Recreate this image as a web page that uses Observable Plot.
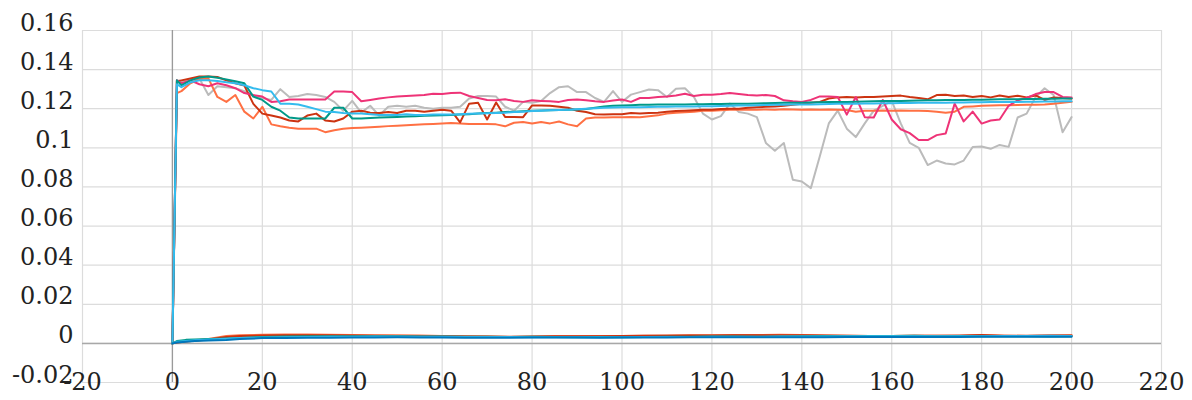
<!DOCTYPE html>
<html>
<head>
<meta charset="utf-8">
<script src="https://cdn.jsdelivr.net/npm/d3@7"></script>
<script src="https://cdn.jsdelivr.net/npm/@observablehq/plot@0.6"></script>
<style>
  html, body { margin: 0; padding: 0; background: #fff; }
</style>
</head>
<body>
<div id="chart"></div>
<script>
// x positions (epochs) for the upper curves: 0, 1, then every 2
const epochs = [0, 1, ...d3.range(2, 201, 2)];
// x positions for the lower curves
const lowEpochs = [0, 1, 3, 5, 8, 12, ...d3.range(15, 201, 5)];

const xTicks = [-20, 0, 20, 40, 60, 80, 100, 120, 140, 160, 180, 200, 220];
const xTickLabels = ["-20", "0", "20", "40", "60", "80", "100", "120", "140", "160", "180", "200", "220"];
const yTicks = [-0.02, 0, 0.02, 0.04, 0.06, 0.08, 0.1, 0.12, 0.14, 0.16];
const yTickLabels = ["-0.02", "0", "0.02", "0.04", "0.06", "0.08", "0.1", "0.12", "0.14", "0.16"];

const grey = [
  0, 0.1345, 0.134, 0.135, 0.1355, 0.127, 0.1315, 0.131, 0.1305, 0.129,
  0.1265, 0.1255, 0.1245, 0.130, 0.126, 0.1265, 0.1275, 0.127, 0.126, 0.1235,
  0.119, 0.124, 0.118, 0.1215, 0.1165, 0.121, 0.1215, 0.121, 0.1215, 0.1205,
  0.120, 0.1205, 0.1205, 0.121, 0.1252, 0.1265, 0.1265, 0.1262, 0.121, 0.119,
  0.1235, 0.123, 0.124, 0.128, 0.131, 0.1315, 0.1285, 0.1285, 0.1255, 0.1235,
  0.129, 0.1235, 0.1272, 0.1285, 0.1298, 0.1295, 0.126, 0.1302, 0.1305, 0.126,
  0.1175, 0.1145, 0.1162, 0.1226, 0.1183, 0.1175, 0.1157, 0.1025, 0.0985, 0.1025,
  0.0837, 0.0828, 0.0794, 0.0957, 0.1125, 0.119, 0.1098, 0.1055, 0.1125, 0.119,
  0.1215, 0.124, 0.1125, 0.1025, 0.100, 0.0912, 0.0935, 0.092, 0.0915, 0.0935,
  0.1004, 0.1007, 0.0995, 0.1015, 0.1005, 0.1155, 0.1175, 0.126, 0.1305, 0.127,
  0.108, 0.1157
];
const magenta = [
  0, 0.1345, 0.133, 0.1345, 0.1325, 0.1315, 0.133, 0.132, 0.1305, 0.128,
  0.127, 0.1262, 0.1235, 0.1238, 0.1247, 0.1247, 0.1247, 0.1247, 0.1247, 0.1288,
  0.1288, 0.1285, 0.1238, 0.1245, 0.1252, 0.1258, 0.1263, 0.1265, 0.1268, 0.127,
  0.1277, 0.1275, 0.128, 0.1282, 0.1265, 0.1255, 0.1245, 0.1243, 0.1248, 0.124,
  0.1235, 0.1243, 0.124, 0.1238, 0.1235, 0.1245, 0.1247, 0.1243, 0.1238, 0.1235,
  0.1242, 0.1247, 0.1235, 0.1255, 0.1255, 0.126, 0.1263, 0.1268, 0.1277, 0.1265,
  0.1272, 0.1272, 0.1275, 0.128, 0.1275, 0.127, 0.1268, 0.127, 0.1265, 0.1243,
  0.1238, 0.1235, 0.1245, 0.1263, 0.1262, 0.126, 0.117, 0.126, 0.1157, 0.1155,
  0.1245, 0.1145, 0.1095, 0.1075, 0.104, 0.104, 0.1065, 0.1073, 0.1226, 0.1135,
  0.1185, 0.1124, 0.114, 0.1145, 0.1215, 0.1243, 0.1255, 0.1275, 0.1285, 0.1285,
  0.126, 0.1257
];
const red = [
  0, 0.134, 0.1345, 0.1355, 0.1365, 0.1365, 0.1362, 0.1345, 0.133, 0.1318,
  0.1225, 0.1175, 0.1165, 0.1155, 0.114, 0.1135, 0.1165, 0.1175, 0.114, 0.1135,
  0.115, 0.1185, 0.119, 0.118, 0.1178, 0.1183, 0.1178, 0.119, 0.119, 0.1185,
  0.119, 0.1195, 0.119, 0.113, 0.1226, 0.123, 0.1145, 0.1232, 0.1158, 0.1158,
  0.1157, 0.1217, 0.1217, 0.1215, 0.121, 0.1205, 0.119, 0.1183, 0.1172, 0.117,
  0.1172, 0.1172, 0.1178, 0.1175, 0.1178, 0.118, 0.1185, 0.1188, 0.119, 0.1192,
  0.1195, 0.1195, 0.1198, 0.12, 0.12, 0.1205, 0.1207, 0.121, 0.1212, 0.1215,
  0.122, 0.1226, 0.123, 0.1235, 0.1252, 0.1258, 0.126, 0.1258, 0.126, 0.126,
  0.1263, 0.1265, 0.1267, 0.126, 0.1255, 0.1248, 0.127, 0.1272, 0.1265, 0.1268,
  0.126, 0.1265, 0.1258, 0.1268, 0.126, 0.1266, 0.1258, 0.1268, 0.1245, 0.1258,
  0.1255, 0.1252
];
const orange = [
  0, 0.128, 0.129, 0.133, 0.1352, 0.1355, 0.126, 0.1235, 0.127, 0.1185,
  0.115, 0.121, 0.112, 0.111, 0.1103, 0.1098, 0.1098, 0.1098, 0.108, 0.109,
  0.1098, 0.1101, 0.1103, 0.1105, 0.1108, 0.1111, 0.1113, 0.1115, 0.1118, 0.112,
  0.1122, 0.1124, 0.1127, 0.1125, 0.1122, 0.1122, 0.1122, 0.112, 0.111, 0.1128,
  0.1132, 0.1125, 0.1132, 0.1125, 0.1135, 0.112, 0.111, 0.115, 0.1155, 0.1155,
  0.1157, 0.1157, 0.1158, 0.1157, 0.1162, 0.1166, 0.1175, 0.118, 0.1182, 0.1185,
  0.119, 0.119, 0.1192, 0.1195, 0.1195, 0.1196, 0.1195, 0.1196, 0.1195, 0.1197,
  0.1196, 0.1195, 0.1196, 0.1195, 0.1196, 0.1195, 0.1194, 0.1185, 0.119, 0.119,
  0.1191, 0.119, 0.1191, 0.119, 0.119, 0.1188, 0.1185, 0.118, 0.1185, 0.121,
  0.1212, 0.1215, 0.1217, 0.1218, 0.1218, 0.1219, 0.122, 0.122, 0.1222, 0.1226,
  0.123, 0.1235
];
const teal = [
  0, 0.1345, 0.132, 0.1345, 0.136, 0.1365, 0.1358, 0.135, 0.134, 0.133,
  0.1262, 0.1245, 0.121, 0.119, 0.1155, 0.115, 0.115, 0.115, 0.115, 0.1205,
  0.1205, 0.115, 0.115, 0.1152, 0.1155, 0.1157, 0.1158, 0.116, 0.1162, 0.1164,
  0.1165, 0.1166, 0.1168, 0.117, 0.1172, 0.1175, 0.1178, 0.118, 0.1183, 0.1185,
  0.1187, 0.119, 0.1191, 0.1192, 0.1193, 0.1195, 0.1196, 0.1198, 0.1205, 0.1212,
  0.1215, 0.1217, 0.1218, 0.122, 0.122, 0.1221, 0.1221, 0.1222, 0.1222, 0.1223,
  0.1223, 0.1224, 0.1224, 0.1225, 0.1226, 0.1226, 0.1227, 0.1228, 0.1229, 0.123,
  0.123, 0.1231, 0.1232, 0.1233, 0.1234, 0.1235, 0.1235, 0.1236, 0.1237, 0.1238,
  0.1239, 0.124, 0.124, 0.1241, 0.1242, 0.1243, 0.1243, 0.1244, 0.1245, 0.1245,
  0.1246, 0.1246, 0.1247, 0.1248, 0.1248, 0.1249, 0.125, 0.125, 0.1251, 0.1251,
  0.1252, 0.1252
];
const cyan = [
  0, 0.1325, 0.131, 0.1335, 0.1345, 0.1345, 0.1342, 0.1335, 0.133, 0.132,
  0.1305, 0.1295, 0.1288, 0.1226, 0.1226, 0.1222, 0.121, 0.1198, 0.1185, 0.1183,
  0.1178, 0.1175, 0.1175, 0.1172, 0.1168, 0.1168, 0.1168, 0.1172, 0.1168, 0.1168,
  0.117, 0.117, 0.1171, 0.1172, 0.1174, 0.1175, 0.1177, 0.1178, 0.118, 0.1183,
  0.1185, 0.1188, 0.119, 0.1192, 0.1194, 0.1195, 0.1197, 0.12, 0.1203, 0.1205,
  0.1206, 0.1207, 0.1208, 0.1208, 0.1209, 0.121, 0.121, 0.1211, 0.1212, 0.1212,
  0.1213, 0.1213, 0.1214, 0.1215, 0.1216, 0.1217, 0.1218, 0.1219, 0.122, 0.122,
  0.1221, 0.1222, 0.1222, 0.1223, 0.1224, 0.1225, 0.1226, 0.1226, 0.1227, 0.1227,
  0.1228, 0.1228, 0.1229, 0.1229, 0.123, 0.123, 0.1231, 0.1231, 0.1232, 0.1232,
  0.1233, 0.1233, 0.1234, 0.1234, 0.1235, 0.1235, 0.1236, 0.1236, 0.1237, 0.1237,
  0.1238, 0.1238
];

// lower group (values near zero)
const lowOrange = [
  0, 0.0006, 0.0012, 0.0015, 0.0022, 0.0038, 0.0042, 0.0044, 0.0045, 0.0045,
  0.0044, 0.0043, 0.0042, 0.0041, 0.004, 0.0038, 0.0037, 0.0036, 0.0033, 0.0034,
  0.0036, 0.0037, 0.0038, 0.0038, 0.0039, 0.004, 0.0041, 0.0042, 0.0043, 0.0043,
  0.0044, 0.0043, 0.004, 0.0039, 0.0038, 0.0038, 0.0039, 0.0039, 0.0038, 0.0042,
  0.0039, 0.0038, 0.004, 0.0041
];
const lowRed = [
  0, 0.0005, 0.001, 0.0014, 0.002, 0.0033, 0.0038, 0.004, 0.0041, 0.0042,
  0.0041, 0.004, 0.0039, 0.0038, 0.0037, 0.0036, 0.0035, 0.0034, 0.0034, 0.0035,
  0.0036, 0.0037, 0.0037, 0.0038, 0.0039, 0.0039, 0.004, 0.004, 0.0041, 0.0042,
  0.0042, 0.0041, 0.004, 0.0039, 0.0038, 0.0038, 0.0039, 0.0039, 0.004, 0.0043,
  0.0039, 0.0039, 0.004, 0.004
];
const lowTeal = [
  0, 0.0012, 0.0018, 0.002, 0.0022, 0.0025, 0.0028, 0.0033, 0.0035, 0.0036,
  0.0036, 0.0037, 0.0037, 0.0036, 0.0035, 0.0035, 0.0034, 0.0034, 0.0033, 0.0034,
  0.0033, 0.0032, 0.0033, 0.0032, 0.0033, 0.0034, 0.0034, 0.0035, 0.0035, 0.0034,
  0.0035, 0.0036, 0.0038, 0.0037, 0.0038, 0.0038, 0.0039, 0.0037, 0.0038, 0.0037,
  0.0036, 0.0036, 0.0035, 0.0036
];
const lowCyan = [
  0, 0.0008, 0.0012, 0.0016, 0.002, 0.0024, 0.0027, 0.003, 0.0032, 0.0033,
  0.0034, 0.0034, 0.0035, 0.0035, 0.0034, 0.0034, 0.0033, 0.0033, 0.0033, 0.0032,
  0.0032, 0.0031, 0.0032, 0.0032, 0.0033, 0.0033, 0.0033, 0.0034, 0.0034, 0.0034,
  0.0035, 0.0035, 0.0035, 0.0036, 0.0036, 0.0036, 0.0037, 0.0037, 0.0037, 0.0037,
  0.0038, 0.0038, 0.0039, 0.0038
];
const lowBlue = [
  0, 0.0004, 0.0008, 0.0012, 0.0015, 0.0017, 0.0022, 0.0027, 0.0028, 0.0029,
  0.0029, 0.003, 0.003, 0.0031, 0.003, 0.003, 0.0029, 0.0029, 0.0029, 0.003,
  0.003, 0.003, 0.0029, 0.003, 0.003, 0.003, 0.0031, 0.0031, 0.0031, 0.0032,
  0.0032, 0.0032, 0.0032, 0.0033, 0.0033, 0.0033, 0.0033, 0.0033, 0.0033, 0.0034,
  0.0034, 0.0034, 0.0034, 0.0034
];

const seriesNames = ["grey", "orange", "red", "magenta", "teal", "cyan",
  "lowOrange", "lowRed", "lowTeal", "lowCyan", "lowBlue"];
const seriesColors = ["#BBBBBB", "#FF7043", "#CC3311", "#EE3377", "#009988", "#33BBEE",
  "#FF7043", "#CC3311", "#009988", "#33BBEE", "#0077BB"];

const upper = { grey, orange, red, magenta, teal, cyan };
const lower = { lowOrange, lowRed, lowTeal, lowCyan, lowBlue };

const rows = [];
for (const name of seriesNames) {
  if (upper[name]) upper[name].forEach((v, i) => rows.push({ epoch: epochs[i], value: v, series: name }));
  else lower[name].forEach((v, i) => rows.push({ epoch: lowEpochs[i], value: v, series: name }));
}

const yLabelOf = new Map(yTicks.map((t, i) => [t, yTickLabels[i]]));
const xLabelOf = new Map(xTicks.map((t, i) => [t, xTickLabels[i]]));
const serif = "DejaVu Serif";

const chart = Plot.plot({
  width: 1192,
  height: 400,
  marginTop: 30,
  marginBottom: 18,
  marginLeft: 82,
  marginRight: 31,
  style: { fontFamily: serif, fontSize: "24px", color: "#222", background: "#fff", overflow: "visible" },
  x: { domain: [-20, 220], label: null },
  y: { domain: [-0.02, 0.16], label: null },
  color: { domain: seriesNames, range: seriesColors },
  marks: [
    Plot.ruleX(xTicks, { stroke: "#dcdcdc", strokeWidth: 1.2 }),
    Plot.ruleY(yTicks, { stroke: "#dcdcdc", strokeWidth: 1.2 }),
    Plot.ruleX([0], { stroke: "#9a9a9a", strokeWidth: 1.3 }),
    Plot.ruleY([0], { stroke: "#a8a8a8", strokeWidth: 1.5 }),
    Plot.line(rows, { x: "epoch", y: "value", z: "series", stroke: "series", strokeWidth: 2, strokeLinejoin: "round" }),
    Plot.axisY(yTicks, { label: null, tickSize: 0, tickPadding: 9, tickFormat: d => yLabelOf.get(d), lineAnchor: "bottom", fontSize: 24, fontFamily: serif, fill: "#222" }),
    Plot.axisX(xTicks, { label: null, tickSize: 0, tickPadding: 0, tickFormat: d => xLabelOf.get(d), lineAnchor: "middle", fontSize: 24, fontFamily: serif, fill: "#222" })
  ]
});
document.getElementById("chart").appendChild(chart);
</script>
</body>
</html>
